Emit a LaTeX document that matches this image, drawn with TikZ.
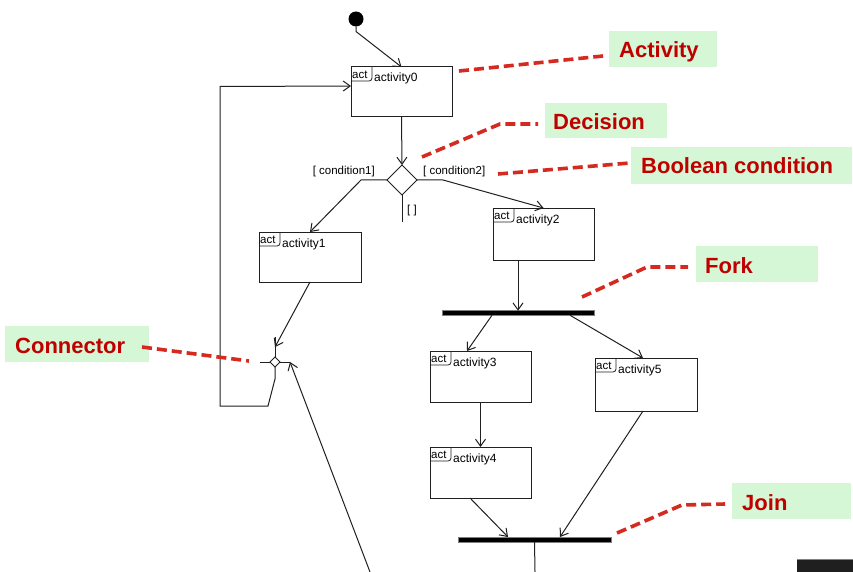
\documentclass[tikz,border=0pt]{standalone}
\usepackage{fontspec}
\setmainfont{Liberation Sans}
\usetikzlibrary{arrows.meta,shapes.geometric,calc}
\definecolor{calloutbg}{HTML}{D5F7D5}
\definecolor{callouttx}{HTML}{C00000}
\definecolor{calloutln}{HTML}{D42A20}
\definecolor{umlline}{HTML}{202020}

% activity box: name, left, top, width, height, label
\newcommand\activitybox[6]{%
  \node[actbox, minimum width=#4pt, minimum height=#5pt] (#1) at (#2,#3) {};
  \draw[tabline, rounded corners=3pt] ([xshift=21pt]#1.north west) -- ([xshift=21pt,yshift=-14pt]#1.north west) -- ([yshift=-14pt]#1.north west);
  \node[tabtxt] (#1-tab) at ([xshift=1pt,yshift=-11.5pt]#1.north west) {act};
  \node[actlbl] (#1-name) at ([xshift=23pt,yshift=-15pt]#1.north west) {#6};
}

% callout: name, left, top, width, height, text indent, text
\newcommand\callout[7]{%
  \node[callbox, minimum width=#4pt, minimum height=#5pt] (#1) at (#2,#3) {};
  \node[calltxt] (#1-text) at ([xshift=#6pt,yshift=-27pt]#1.north west) {#7};
}

\begin{document}
\begin{tikzpicture}[x=1pt,y=-1pt,
  uml/.style={draw=umlline, line width=1pt},
  flow/.style={uml, -{Straight Barb[length=7pt,width=10pt]}},
  actbox/.style={uml, rectangle, anchor=north west, inner sep=0pt, outer sep=0pt},
  tabline/.style={uml, line width=0.8pt},
  tabtxt/.style={font=\fontsize{11.5}{11.5}\selectfont, inner sep=0pt, anchor=base west},
  actlbl/.style={font=\fontsize{12}{12}\selectfont, inner sep=0pt, anchor=base west},
  guard/.style={font=\fontsize{11.5}{12}\selectfont, inner sep=0pt},
  bar/.style={rectangle, fill=black, draw=gray, line width=0.8pt, inner sep=0pt, outer sep=0pt},
  callbox/.style={rectangle, fill=calloutbg, inner sep=0pt, anchor=north west},
  calltxt/.style={font=\fontsize{22}{22}\selectfont\bfseries, text=callouttx, inner sep=0pt, anchor=base west},
  pointer/.style={draw=calloutln, line width=3.6pt, dash pattern=on 10pt off 5pt},
]
\fill[white] (0,0) rectangle (853,572);
\useasboundingbox (0,0) rectangle (853,572);

% initial node
\node[circle, fill=black, minimum size=15pt, inner sep=0pt, outer sep=0pt] (init) at (356,19) {};

% activities
\activitybox{a0}{351}{67}{101}{50}{activity0}
\activitybox{a1}{259}{232}{102}{50}{activity1}
\activitybox{a2}{493}{208}{101}{52}{activity2}
\activitybox{a3}{430}{351}{101}{51}{activity3}
\activitybox{a4}{430}{447}{101}{51}{activity4}
\activitybox{a5}{595}{358}{102}{53}{activity5}

% decision and connector
\node[diamond, uml, minimum width=30pt, minimum height=30pt, inner sep=0pt, outer sep=0pt] (dec) at (402,180) {};
\node[diamond, uml, fill=white, minimum width=10pt, minimum height=10pt, inner sep=0pt, outer sep=0pt] (conn) at (275,362) {};

% fork and join bars
\node[bar, minimum width=152pt, minimum height=4.5pt] (fork) at (518,313) {};
\node[bar, minimum width=153pt, minimum height=5pt] (join) at (534.5,539.5) {};

% guards
\node[guard, anchor=base east] (g1) at (375,175) {[ condition1]};
\node[guard, anchor=base west] (g2) at (423,175) {[ condition2]};
\node[guard, anchor=base west] (g3) at (407,213) {[ ]};

% control flow
\draw[flow] (init.south) -- ++(0,5) -- (a0.north);
\draw[flow] (a0.south) -- (dec.north);
\draw[flow] (dec.west) -- ++(-26,0) -- (a1.north);
\draw[flow] (dec.east) -- ++(26,0) -- (a2.north);
\draw[uml] (dec.south) -- ++(0,27);
\draw[flow] ([xshift=25pt]a2.south west) -- ([xshift=25pt]a2.south west |- fork.north);
\draw[flow] ([xshift=50pt]fork.south west) -- ([xshift=37pt]a3.north west);
\draw[flow] ([xshift=-24pt]fork.south east) -- ([xshift=-3pt]a5.north);
\draw[flow] (a3.south) -- (a4.north);
\draw[flow] ([xshift=40pt]a4.south west) -- ([xshift=50pt]join.north west);
\draw[flow] ([xshift=-3pt]a5.south) -- ([xshift=102pt]join.north west);
\coordinate (out) at (535,572);
\draw[uml] (join.south) -- (out);

% connector stubs and loop back
\draw[uml] (conn.north) -- ++(0,-20);
\draw[uml] (conn.west) -- ++(-10,0);
\draw[uml] (conn.east) -- ++(10,0);
\draw[flow] (a1.south) -- ([yshift=10pt]conn.north);
\coordinate (back) at (370,572);
\draw[flow] (back) -- ([xshift=10pt]conn.east);
\draw[flow] (conn.south) -- ++(0,12) -- (268,406) -- (220,406) -- (220,86.5) -- ([yshift=6pt]a0.west);

% callouts
\callout{cAct}{609}{31}{108}{36}{10}{Activity}
\callout{cDec}{545}{103}{122}{35}{8}{Decision}
\callout{cBool}{631}{147}{221}{37}{10}{Boolean condition}
\callout{cFork}{696}{246}{122}{36}{9}{Fork}
\callout{cConn}{5}{326}{144}{36}{10}{Connector}
\callout{cJoin}{732}{483}{119}{36}{10}{Join}

% callout pointers
\coordinate (pA1) at (459,71);  \coordinate (pA2) at (603,56);
\draw[pointer] (pA1) -- (pA2);
\coordinate (pD1) at (422,157); \coordinate (pD2) at (538,124);
\draw[pointer] (pD1) -- (500,124) -- (pD2);
\coordinate (pB1) at (498,174); \coordinate (pB2) at (630,163);
\draw[pointer] (pB1) -- (pB2);
\coordinate (pF1) at (582,297); \coordinate (pF2) at (688,267);
\draw[pointer] (pF1) -- (647,267) -- (pF2);
\coordinate (pC1) at (142,347); \coordinate (pC2) at (249,361);
\draw[pointer] (pC1) -- (pC2);
\coordinate (pJ1) at (617,533); \coordinate (pJ2) at (725,504);
\draw[pointer] (pJ1) -- (682,505) -- (pJ2);

% dark strip in the lower right corner
\fill[black!88] (797,559) rectangle (853,572);
\draw[gray, line width=0.6pt] (797,559) -- (853,559);
\end{tikzpicture}
\end{document}
